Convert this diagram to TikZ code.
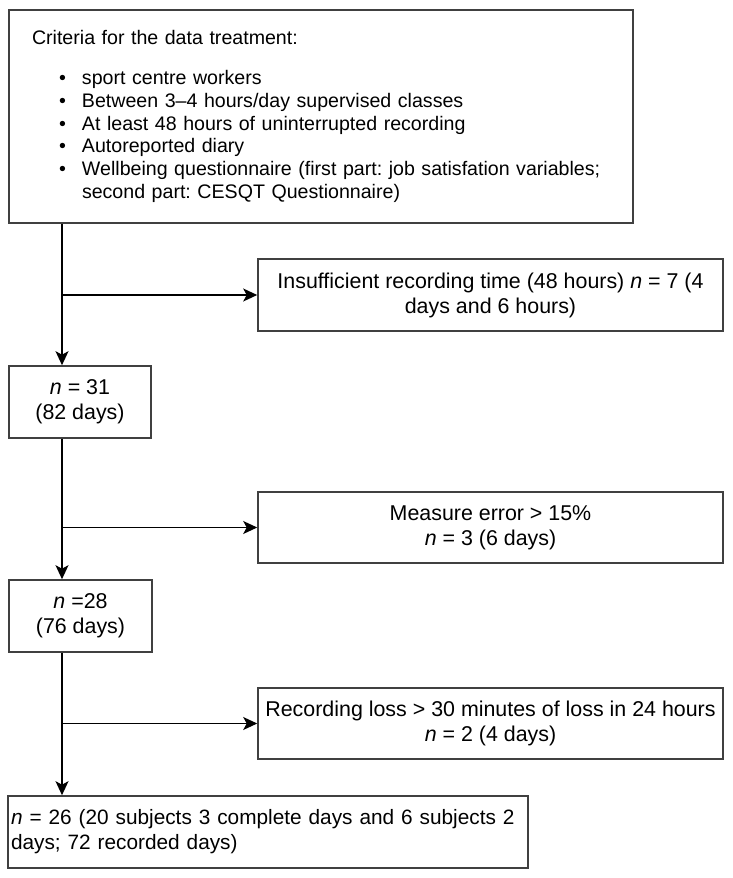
\documentclass[tikz,border=0pt]{standalone}
\usepackage{fontspec}
\setmainfont{Liberation Sans}
\usetikzlibrary{arrows.meta}
\newcommand{\critem}{\makebox[50pt][l]{\hspace*{27pt}\textbullet}}
\frenchspacing

\begin{document}
\begin{tikzpicture}[x=1pt,y=1pt]
\tikzstyle{every node}+=[inner sep=0pt]
\tikzstyle{box}=[draw=black!75, line width=1.6pt]
\tikzstyle{smallfont}=[font=\fontsize{19.6}{22.9}\selectfont]
\tikzstyle{bigfont}=[font=\fontsize{21.4}{25}\selectfont]
\tikzstyle{flow}=[black, line width=1.5pt, -{Stealth[length=14pt,width=13pt,inset=3.5pt]}]
\useasboundingbox (0,0) rectangle (733,-878);
\node [box, smallfont, minimum width=624, minimum height=213, text width=578, align=left] (crit) at (321,-116.5) {Criteria for the data treatment:\\[17pt]
\critem sport centre workers\\
\critem Between 3–4 hours/day supervised classes\\
\critem At least 48 hours of uninterrupted recording\\
\critem Autoreported diary\\
\critem Wellbeing questionnaire (first part: job satisfation variables;\\
\hspace*{50pt}second part: CESQT Questionnaire)};
\node [box, bigfont, minimum width=465, minimum height=72, align=center] (lossA) at (490.5,-295) {Insufficient recording time (48 hours) \textit{n} = 7 (4\\days and 6 hours)};
\node [box, bigfont, minimum width=142, minimum height=72, align=center] (n31) at (80,-402) {\textit{n} = 31\\(82 days)};
\node [box, bigfont, minimum width=465, minimum height=71, align=center] (lossB) at (490.5,-527.5) {Measure error > 15\%\\\textit{n} = 3 (6 days)};
\node [box, bigfont, minimum width=143, minimum height=72, align=center] (n28) at (80.5,-616) {\textit{n} =28\\(76 days)};
\node [box, bigfont, minimum width=465, minimum height=71, align=center] (lossC) at (490.5,-723.5) {Recording loss > 30 minutes of loss in 24 hours\\\textit{n} = 2 (4 days)};
\node [box, font=\fontsize{20.8}{25}\selectfont, minimum width=520, minimum height=72, text width=514, align=left] (final) at (268,-832) {\textit{n} = 26 (20 subjects 3 complete days and 6 subjects 2\\days; 72 recorded days)};
\coordinate (trunk) at (62,0);
\draw [flow] (crit.south -| trunk) -- (n31.north -| trunk);
\draw [flow] (n31.south -| trunk) -- (n28.north -| trunk);
\draw [flow] (n28.south -| trunk) -- (final.north -| trunk);
\draw [flow] (lossA.west -| trunk) -- (lossA.west);
\draw [flow] (lossB.west -| trunk) -- (lossB.west);
\draw [flow] (lossC.west -| trunk) -- (lossC.west);
\end{tikzpicture}
\end{document}
